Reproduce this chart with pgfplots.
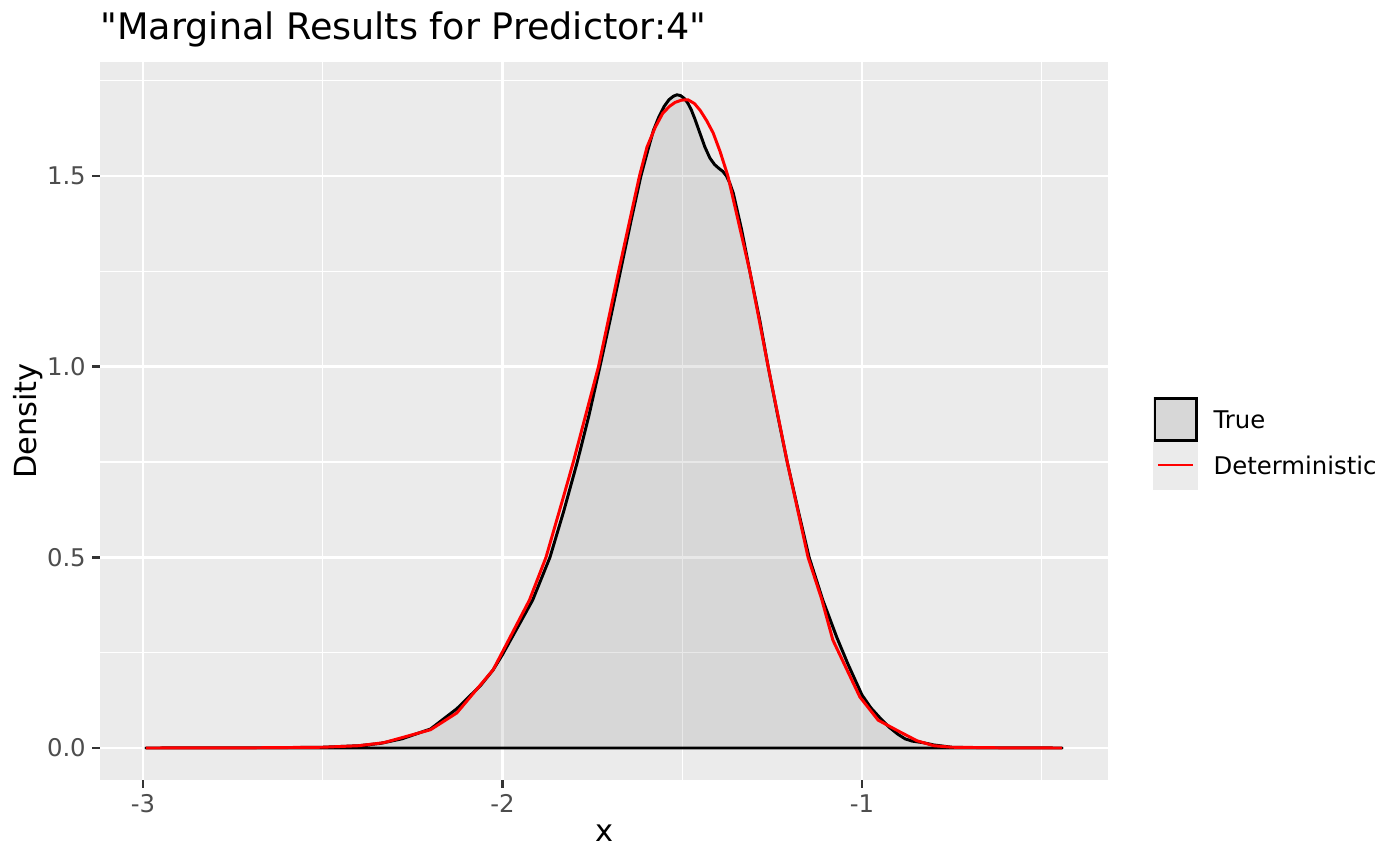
\documentclass[border=0pt]{standalone}
\usepackage{fontspec}
\setmainfont{DejaVu Sans}
\newfontfamily\plainsans{DejaVu Sans}[Ligatures=ResetAll]
\usepackage{pgfplots}
\pgfplotsset{compat=1.18}
\definecolor{bggray}{RGB}{235,235,235}
\definecolor{tickgray}{RGB}{77,77,77}
\definecolor{tickmark}{RGB}{51,51,51}
\definecolor{ggred}{RGB}{255,0,0}

\pgfplotstableread{
x y
-2.992 0.000
-2.800 0.0003
-2.700 0.0005
-2.600 0.001
-2.500 0.002
-2.400 0.006
-2.340 0.012
-2.280 0.024
-2.200 0.050
-2.127 0.103
-2.060 0.165
-2.026 0.205
-2.000 0.245
-1.950 0.330
-1.916 0.388
-1.868 0.500
-1.830 0.620
-1.792 0.750
-1.760 0.870
-1.729 1.000
-1.700 1.125
-1.672 1.250
-1.643 1.380
-1.615 1.500
-1.595 1.570
-1.580 1.620
-1.565 1.655
-1.550 1.683
-1.537 1.700
-1.525 1.709
-1.515 1.713
-1.505 1.711
-1.495 1.704
-1.485 1.692
-1.475 1.674
-1.465 1.650
-1.451 1.613
-1.437 1.576
-1.423 1.547
-1.410 1.530
-1.398 1.520
-1.387 1.512
-1.377 1.500
-1.368 1.482
-1.358 1.455
-1.335 1.360
-1.312 1.250
-1.284 1.120
-1.261 1.000
-1.235 0.875
-1.208 0.750
-1.178 0.625
-1.147 0.500
-1.109 0.388
-1.070 0.290
-1.039 0.220
-1.000 0.139
-0.975 0.105
-0.950 0.079
-0.925 0.055
-0.900 0.036
-0.880 0.024
-0.860 0.018
-0.830 0.014
-0.800 0.008
-0.750 0.002
-0.700 0.001
-0.600 0.0004
-0.443 0.000
}\truetab

\pgfplotstableread{
x y
-2.992 0.000
-2.700 0.0005
-2.500 0.002
-2.400 0.006
-2.330 0.014
-2.200 0.048
-2.127 0.092
-2.026 0.205
-1.925 0.388
-1.879 0.500
-1.830 0.660
-1.803 0.750
-1.733 1.000
-1.677 1.250
-1.619 1.500
-1.598 1.576
-1.575 1.628
-1.554 1.665
-1.535 1.683
-1.520 1.693
-1.502 1.699
-1.484 1.700
-1.466 1.690
-1.450 1.672
-1.432 1.645
-1.414 1.613
-1.395 1.565
-1.373 1.500
-1.312 1.250
-1.261 1.000
-1.208 0.750
-1.150 0.500
-1.112 0.390
-1.081 0.283
-1.006 0.134
-0.955 0.073
-0.900 0.045
-0.847 0.019
-0.800 0.006
-0.750 0.002
-0.600 0.0004
-0.443 0.000
}\dettab

\begin{document}
\begin{tikzpicture}
\path[use as bounding box, fill=white] (-36bp,-30.6bp) rectangle (468bp,280.8bp);
\begin{axis}[
  at={(0,0)}, anchor=south west,
  scale only axis,
  width=362.88bp, height=258.48bp,
  xmin=-3.1196, xmax=-0.3157,
  ymin=-0.0839, ymax=1.7990,
  axis background/.style={fill=bggray},
  axis line style={draw=none},
  tick pos=left,
  tick align=outside,
  major tick length=2.75pt,
  minor tick length=0pt,
  every tick/.style={color=tickmark, line width=1.07pt},
  xtick={-3,-2,-1}, xticklabels={-3,-2,-1},
  ytick={0,0.5,1,1.5}, yticklabels={0.0,0.5,1.0,1.5},
  minor xtick={-2.5,-1.5,-0.5},
  minor ytick={0.25,0.75,1.25,1.75},
  grid=both,
  major grid style={white, line width=1.07pt},
  minor grid style={white, line width=0.53pt},
  tick label style={font=\fontsize{8.8}{10}\selectfont, text=tickgray, inner sep=2.2pt},
]
\addplot[draw=black, line width=1.07pt, fill=black!50, fill opacity=0.18, line join=round] table[x=x,y=y] {\truetab} -- cycle;
\addplot[draw=ggred, line width=1.07pt, line join=round] table[x=x,y=y] {\dettab};
\end{axis}
% title and axis labels
\node[anchor=base west, inner sep=0pt, font=\plainsans\fontsize{13.2}{15}\selectfont] at (0bp,266.4bp) {"Marginal Results for Predictor:4"};
\node[anchor=base, inner sep=0pt, font=\fontsize{11}{13}\selectfont] at (181.44bp,-22.3bp) {x};
\node[anchor=base, rotate=90, inner sep=0pt, font=\fontsize{11}{13}\selectfont] at (-22.7bp,129.24bp) {Density};
% legend
\fill[bggray] (379.08bp,104.4bp) rectangle (395.28bp,121.68bp);
\fill[bggray] (379.08bp,121.68bp) rectangle (395.28bp,137.88bp);
\filldraw[draw=black, line width=1.07pt, fill=black!50, fill opacity=0.18, draw opacity=1] (379.8bp,122.2bp) rectangle (394.6bp,137.2bp);
\draw[ggred, line width=1.07pt] (380.9bp,113.4bp) -- (393.5bp,113.4bp);
\node[anchor=west, inner sep=0pt, font=\fontsize{8.8}{10}\selectfont] at (400.7bp,129.6bp) {True};
\node[anchor=west, inner sep=0pt, font=\fontsize{8.8}{10}\selectfont] at (400.7bp,113.4bp) {Deterministic};
\end{tikzpicture}
\end{document}
